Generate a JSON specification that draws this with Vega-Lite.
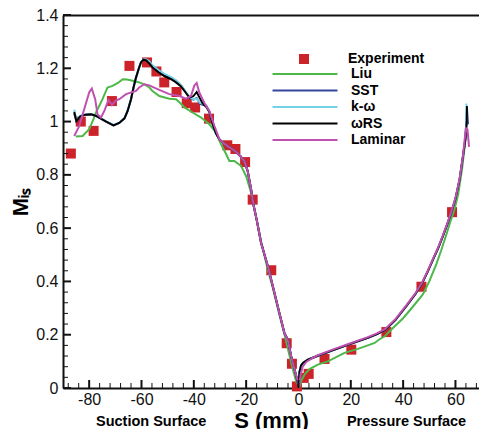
{
  "$schema": "https://vega.github.io/schema/vega-lite/v6.json",
  "width": 416,
  "height": 373,
  "autosize": {"type": "none"},
  "padding": {"left": 63, "top": 15, "right": 0, "bottom": 41},
  "background": "white",
  "config": {"view": {"stroke": null}, "font": "Liberation Sans"},
  "datasets": {
    "xMajor": [{"s": -80}, {"s": -60}, {"s": -40}, {"s": -20}, {"s": 0}, {"s": 20}, {"s": 40}, {"s": 60}],
    "xMinor": [{"s": -88}, {"s": -84}, {"s": -76}, {"s": -72}, {"s": -68}, {"s": -64}, {"s": -56}, {"s": -52}, {"s": -48}, {"s": -44}, {"s": -36}, {"s": -32}, {"s": -28}, {"s": -24}, {"s": -16}, {"s": -12}, {"s": -8}, {"s": -4}, {"s": 4}, {"s": 8}, {"s": 12}, {"s": 16}, {"s": 24}, {"s": 28}, {"s": 32}, {"s": 36}, {"s": 44}, {"s": 48}, {"s": 52}, {"s": 56}, {"s": 64}, {"s": 68}],
    "yMajor": [{"m": 0}, {"m": 0.2}, {"m": 0.4}, {"m": 0.6}, {"m": 0.8}, {"m": 1}, {"m": 1.2}, {"m": 1.4}],
    "yMinor": [{"m": 0.04}, {"m": 0.08}, {"m": 0.12}, {"m": 0.16}, {"m": 0.24}, {"m": 0.28}, {"m": 0.32}, {"m": 0.36}, {"m": 0.44}, {"m": 0.48}, {"m": 0.52}, {"m": 0.56}, {"m": 0.64}, {"m": 0.68}, {"m": 0.72}, {"m": 0.76}, {"m": 0.84}, {"m": 0.88}, {"m": 0.92}, {"m": 0.96}, {"m": 1.04}, {"m": 1.08}, {"m": 1.12}, {"m": 1.16}, {"m": 1.24}, {"m": 1.28}, {"m": 1.32}, {"m": 1.36}],
    "experiment": [
      {"model": "Experiment", "s": -87.0, "m": 0.880},
      {"model": "Experiment", "s": -83.2, "m": 1.000},
      {"model": "Experiment", "s": -78.3, "m": 0.965},
      {"model": "Experiment", "s": -71.3, "m": 1.077},
      {"model": "Experiment", "s": -64.6, "m": 1.209},
      {"model": "Experiment", "s": -57.9, "m": 1.222},
      {"model": "Experiment", "s": -54.3, "m": 1.188},
      {"model": "Experiment", "s": -51.3, "m": 1.147},
      {"model": "Experiment", "s": -46.6, "m": 1.111},
      {"model": "Experiment", "s": -42.7, "m": 1.069},
      {"model": "Experiment", "s": -39.5, "m": 1.053},
      {"model": "Experiment", "s": -34.2, "m": 1.011},
      {"model": "Experiment", "s": -27.2, "m": 0.911},
      {"model": "Experiment", "s": -24.1, "m": 0.897},
      {"model": "Experiment", "s": -20.4, "m": 0.848},
      {"model": "Experiment", "s": -17.5, "m": 0.707},
      {"model": "Experiment", "s": -10.4, "m": 0.442},
      {"model": "Experiment", "s": -4.5, "m": 0.168},
      {"model": "Experiment", "s": -2.5, "m": 0.091},
      {"model": "Experiment", "s": -0.6, "m": 0.006},
      {"model": "Experiment", "s": 2.0, "m": 0.038},
      {"model": "Experiment", "s": 3.9, "m": 0.053},
      {"model": "Experiment", "s": 9.95, "m": 0.109},
      {"model": "Experiment", "s": 20.2, "m": 0.144},
      {"model": "Experiment", "s": 33.6, "m": 0.210},
      {"model": "Experiment", "s": 47.0, "m": 0.380},
      {"model": "Experiment", "s": 58.7, "m": 0.660}
    ],
    "surfaces": [
      {"s": -56.3, "side": "Suction Surface"},
      {"s": 41.3, "side": "Pressure Surface"}
    ],
    "curves": [
      {"model": "Liu", "s": -85.1, "m": 0.944},
      {"model": "Liu", "s": -82.5, "m": 0.946},
      {"model": "Liu", "s": -80.0, "m": 0.971},
      {"model": "Liu", "s": -78.5, "m": 1.005},
      {"model": "Liu", "s": -77.4, "m": 1.034},
      {"model": "Liu", "s": -74.9, "m": 1.084},
      {"model": "Liu", "s": -73.0, "m": 1.128},
      {"model": "Liu", "s": -71.1, "m": 1.134},
      {"model": "Liu", "s": -69.0, "m": 1.145},
      {"model": "Liu", "s": -67.2, "m": 1.159},
      {"model": "Liu", "s": -65.5, "m": 1.158},
      {"model": "Liu", "s": -63.4, "m": 1.153},
      {"model": "Liu", "s": -60.8, "m": 1.147},
      {"model": "Liu", "s": -58.5, "m": 1.138},
      {"model": "Liu", "s": -57.0, "m": 1.128},
      {"model": "Liu", "s": -55.8, "m": 1.115},
      {"model": "Liu", "s": -53.2, "m": 1.096},
      {"model": "Liu", "s": -49.4, "m": 1.086},
      {"model": "Liu", "s": -46.8, "m": 1.084},
      {"model": "Liu", "s": -45.0, "m": 1.068},
      {"model": "Liu", "s": -43.6, "m": 1.053},
      {"model": "Liu", "s": -40.5, "m": 1.034},
      {"model": "Liu", "s": -37.2, "m": 1.015},
      {"model": "Liu", "s": -34.1, "m": 0.990},
      {"model": "Liu", "s": -31.5, "m": 0.959},
      {"model": "Liu", "s": -29.6, "m": 0.915},
      {"model": "Liu", "s": -28.0, "m": 0.885},
      {"model": "Liu", "s": -26.4, "m": 0.852},
      {"model": "Liu", "s": -24.5, "m": 0.852},
      {"model": "Liu", "s": -21.9, "m": 0.833},
      {"model": "Liu", "s": -20.0, "m": 0.795},
      {"model": "Liu", "s": -18.1, "m": 0.733},
      {"model": "Liu", "s": -16.8, "m": 0.670},
      {"model": "Liu", "s": -14.5, "m": 0.560},
      {"model": "Liu", "s": -12.0, "m": 0.455},
      {"model": "Liu", "s": -9.8, "m": 0.375},
      {"model": "Liu", "s": -7.3, "m": 0.275},
      {"model": "Liu", "s": -5.2, "m": 0.195},
      {"model": "Liu", "s": -3.5, "m": 0.125},
      {"model": "Liu", "s": -2.0, "m": 0.065},
      {"model": "Liu", "s": -0.8, "m": 0.022},
      {"model": "Liu", "s": 0.3, "m": 0.005},
      {"model": "Liu", "s": 1.0, "m": 0.025},
      {"model": "Liu", "s": 2.3, "m": 0.050},
      {"model": "Liu", "s": 4.2, "m": 0.071},
      {"model": "Liu", "s": 7.4, "m": 0.088},
      {"model": "Liu", "s": 11.2, "m": 0.100},
      {"model": "Liu", "s": 17.6, "m": 0.132},
      {"model": "Liu", "s": 22.7, "m": 0.147},
      {"model": "Liu", "s": 26.0, "m": 0.158},
      {"model": "Liu", "s": 29.1, "m": 0.169},
      {"model": "Liu", "s": 31.0, "m": 0.183},
      {"model": "Liu", "s": 33.0, "m": 0.194},
      {"model": "Liu", "s": 36.1, "m": 0.225},
      {"model": "Liu", "s": 40.0, "m": 0.262},
      {"model": "Liu", "s": 43.7, "m": 0.305},
      {"model": "Liu", "s": 47.6, "m": 0.352},
      {"model": "Liu", "s": 50.0, "m": 0.400},
      {"model": "Liu", "s": 52.7, "m": 0.465},
      {"model": "Liu", "s": 54.5, "m": 0.515},
      {"model": "Liu", "s": 56.5, "m": 0.575},
      {"model": "Liu", "s": 58.4, "m": 0.635},
      {"model": "Liu", "s": 59.5, "m": 0.665},
      {"model": "Liu", "s": 61.0, "m": 0.725},
      {"model": "Liu", "s": 62.5, "m": 0.820},
      {"model": "Liu", "s": 63.5, "m": 0.905},
      {"model": "Liu", "s": 64.1, "m": 0.990},

      {"model": "SST", "s": -85.7, "m": 1.030},
      {"model": "SST", "s": -84.9, "m": 1.002},
      {"model": "SST", "s": -83.4, "m": 1.020},
      {"model": "SST", "s": -81.5, "m": 1.026},
      {"model": "SST", "s": -79.3, "m": 1.027},
      {"model": "SST", "s": -77.5, "m": 1.022},
      {"model": "SST", "s": -76.2, "m": 1.015},
      {"model": "SST", "s": -73.5, "m": 1.000},
      {"model": "SST", "s": -70.7, "m": 0.986},
      {"model": "SST", "s": -68.5, "m": 0.995},
      {"model": "SST", "s": -66.5, "m": 1.012},
      {"model": "SST", "s": -65.3, "m": 1.040},
      {"model": "SST", "s": -64.0, "m": 1.084},
      {"model": "SST", "s": -63.0, "m": 1.130},
      {"model": "SST", "s": -62.1, "m": 1.165},
      {"model": "SST", "s": -61.0, "m": 1.200},
      {"model": "SST", "s": -60.2, "m": 1.222},
      {"model": "SST", "s": -59.3, "m": 1.232},
      {"model": "SST", "s": -58.3, "m": 1.232},
      {"model": "SST", "s": -57.0, "m": 1.224},
      {"model": "SST", "s": -55.8, "m": 1.209},
      {"model": "SST", "s": -53.5, "m": 1.191},
      {"model": "SST", "s": -51.3, "m": 1.177},
      {"model": "SST", "s": -48.5, "m": 1.164},
      {"model": "SST", "s": -46.8, "m": 1.153},
      {"model": "SST", "s": -44.9, "m": 1.136},
      {"model": "SST", "s": -43.2, "m": 1.112},
      {"model": "SST", "s": -41.7, "m": 1.090},
      {"model": "SST", "s": -40.2, "m": 1.082},
      {"model": "SST", "s": -38.9, "m": 1.088},
      {"model": "SST", "s": -37.6, "m": 1.066},
      {"model": "SST", "s": -36.2, "m": 1.062},
      {"model": "SST", "s": -35.2, "m": 1.058},
      {"model": "SST", "s": -34.0, "m": 1.035},
      {"model": "SST", "s": -32.8, "m": 0.990},
      {"model": "SST", "s": -31.5, "m": 0.955},
      {"model": "SST", "s": -30.2, "m": 0.933},
      {"model": "SST", "s": -28.5, "m": 0.918},
      {"model": "SST", "s": -27.1, "m": 0.908},
      {"model": "SST", "s": -25.5, "m": 0.898},
      {"model": "SST", "s": -23.8, "m": 0.886},
      {"model": "SST", "s": -22.2, "m": 0.870},
      {"model": "SST", "s": -20.7, "m": 0.852},
      {"model": "SST", "s": -19.4, "m": 0.814},
      {"model": "SST", "s": -18.1, "m": 0.745},
      {"model": "SST", "s": -17.1, "m": 0.683},
      {"model": "SST", "s": -16.0, "m": 0.633},
      {"model": "SST", "s": -14.3, "m": 0.545},
      {"model": "SST", "s": -11.7, "m": 0.457},
      {"model": "SST", "s": -9.8, "m": 0.382},
      {"model": "SST", "s": -7.3, "m": 0.282},
      {"model": "SST", "s": -5.4, "m": 0.207},
      {"model": "SST", "s": -4.1, "m": 0.182},
      {"model": "SST", "s": -2.8, "m": 0.119},
      {"model": "SST", "s": -1.5, "m": 0.069},
      {"model": "SST", "s": -0.5, "m": 0.030},
      {"model": "SST", "s": 0.0, "m": 0.005},
      {"model": "SST", "s": 0.4, "m": 0.060},
      {"model": "SST", "s": 1.0, "m": 0.085},
      {"model": "SST", "s": 1.8, "m": 0.095},
      {"model": "SST", "s": 3.6, "m": 0.106},
      {"model": "SST", "s": 7.4, "m": 0.121},
      {"model": "SST", "s": 13.8, "m": 0.144},
      {"model": "SST", "s": 20.2, "m": 0.167},
      {"model": "SST", "s": 26.5, "m": 0.188},
      {"model": "SST", "s": 30.0, "m": 0.202},
      {"model": "SST", "s": 33.2, "m": 0.219},
      {"model": "SST", "s": 37.0, "m": 0.255},
      {"model": "SST", "s": 41.2, "m": 0.307},
      {"model": "SST", "s": 44.5, "m": 0.350},
      {"model": "SST", "s": 47.0, "m": 0.388},
      {"model": "SST", "s": 49.3, "m": 0.435},
      {"model": "SST", "s": 51.4, "m": 0.482},
      {"model": "SST", "s": 53.4, "m": 0.525},
      {"model": "SST", "s": 55.2, "m": 0.570},
      {"model": "SST", "s": 56.9, "m": 0.615},
      {"model": "SST", "s": 58.4, "m": 0.658},
      {"model": "SST", "s": 60.0, "m": 0.710},
      {"model": "SST", "s": 61.6, "m": 0.783},
      {"model": "SST", "s": 62.9, "m": 0.871},
      {"model": "SST", "s": 63.8, "m": 0.933},
      {"model": "SST", "s": 64.3, "m": 1.000},
      {"model": "SST", "s": 64.4, "m": 1.050},
      {"model": "SST", "s": 64.8, "m": 0.990},

      {"model": "k-ω", "s": -85.7, "m": 1.045},
      {"model": "k-ω", "s": -84.9, "m": 1.004},
      {"model": "k-ω", "s": -83.4, "m": 1.021},
      {"model": "k-ω", "s": -81.5, "m": 1.027},
      {"model": "k-ω", "s": -79.3, "m": 1.028},
      {"model": "k-ω", "s": -77.5, "m": 1.023},
      {"model": "k-ω", "s": -76.2, "m": 1.016},
      {"model": "k-ω", "s": -73.5, "m": 1.001},
      {"model": "k-ω", "s": -70.7, "m": 0.987},
      {"model": "k-ω", "s": -68.5, "m": 0.996},
      {"model": "k-ω", "s": -66.5, "m": 1.013},
      {"model": "k-ω", "s": -65.3, "m": 1.040},
      {"model": "k-ω", "s": -64.0, "m": 1.084},
      {"model": "k-ω", "s": -63.0, "m": 1.130},
      {"model": "k-ω", "s": -62.1, "m": 1.165},
      {"model": "k-ω", "s": -61.0, "m": 1.200},
      {"model": "k-ω", "s": -60.2, "m": 1.222},
      {"model": "k-ω", "s": -59.3, "m": 1.233},
      {"model": "k-ω", "s": -58.3, "m": 1.234},
      {"model": "k-ω", "s": -57.0, "m": 1.226},
      {"model": "k-ω", "s": -55.8, "m": 1.211},
      {"model": "k-ω", "s": -53.5, "m": 1.193},
      {"model": "k-ω", "s": -51.3, "m": 1.179},
      {"model": "k-ω", "s": -48.5, "m": 1.166},
      {"model": "k-ω", "s": -46.8, "m": 1.155},
      {"model": "k-ω", "s": -44.9, "m": 1.138},
      {"model": "k-ω", "s": -43.2, "m": 1.114},
      {"model": "k-ω", "s": -41.7, "m": 1.092},
      {"model": "k-ω", "s": -40.2, "m": 1.084},
      {"model": "k-ω", "s": -38.9, "m": 1.086},
      {"model": "k-ω", "s": -37.6, "m": 1.070},
      {"model": "k-ω", "s": -36.2, "m": 1.066},
      {"model": "k-ω", "s": -35.2, "m": 1.060},
      {"model": "k-ω", "s": -34.0, "m": 1.036},
      {"model": "k-ω", "s": -32.8, "m": 0.990},
      {"model": "k-ω", "s": -31.5, "m": 0.955},
      {"model": "k-ω", "s": -30.2, "m": 0.933},
      {"model": "k-ω", "s": -28.5, "m": 0.918},
      {"model": "k-ω", "s": -27.1, "m": 0.908},
      {"model": "k-ω", "s": -25.5, "m": 0.898},
      {"model": "k-ω", "s": -23.8, "m": 0.886},
      {"model": "k-ω", "s": -22.2, "m": 0.870},
      {"model": "k-ω", "s": -20.7, "m": 0.852},
      {"model": "k-ω", "s": -19.4, "m": 0.814},
      {"model": "k-ω", "s": -18.1, "m": 0.745},
      {"model": "k-ω", "s": -17.1, "m": 0.683},
      {"model": "k-ω", "s": -16.0, "m": 0.633},
      {"model": "k-ω", "s": -14.3, "m": 0.545},
      {"model": "k-ω", "s": -11.7, "m": 0.457},
      {"model": "k-ω", "s": -9.8, "m": 0.382},
      {"model": "k-ω", "s": -7.3, "m": 0.282},
      {"model": "k-ω", "s": -5.4, "m": 0.207},
      {"model": "k-ω", "s": -4.1, "m": 0.182},
      {"model": "k-ω", "s": -2.8, "m": 0.119},
      {"model": "k-ω", "s": -1.5, "m": 0.069},
      {"model": "k-ω", "s": -0.5, "m": 0.030},
      {"model": "k-ω", "s": 0.0, "m": 0.005},
      {"model": "k-ω", "s": 0.4, "m": 0.060},
      {"model": "k-ω", "s": 1.0, "m": 0.085},
      {"model": "k-ω", "s": 1.8, "m": 0.095},
      {"model": "k-ω", "s": 3.6, "m": 0.106},
      {"model": "k-ω", "s": 7.4, "m": 0.121},
      {"model": "k-ω", "s": 13.8, "m": 0.144},
      {"model": "k-ω", "s": 20.2, "m": 0.167},
      {"model": "k-ω", "s": 26.5, "m": 0.188},
      {"model": "k-ω", "s": 30.0, "m": 0.202},
      {"model": "k-ω", "s": 33.2, "m": 0.219},
      {"model": "k-ω", "s": 37.0, "m": 0.255},
      {"model": "k-ω", "s": 41.2, "m": 0.307},
      {"model": "k-ω", "s": 44.5, "m": 0.350},
      {"model": "k-ω", "s": 47.0, "m": 0.388},
      {"model": "k-ω", "s": 49.3, "m": 0.435},
      {"model": "k-ω", "s": 51.4, "m": 0.482},
      {"model": "k-ω", "s": 53.4, "m": 0.525},
      {"model": "k-ω", "s": 55.2, "m": 0.570},
      {"model": "k-ω", "s": 56.9, "m": 0.615},
      {"model": "k-ω", "s": 58.4, "m": 0.658},
      {"model": "k-ω", "s": 60.0, "m": 0.710},
      {"model": "k-ω", "s": 61.6, "m": 0.783},
      {"model": "k-ω", "s": 62.9, "m": 0.871},
      {"model": "k-ω", "s": 63.8, "m": 0.933},
      {"model": "k-ω", "s": 64.1, "m": 1.000},
      {"model": "k-ω", "s": 64.2, "m": 1.068},

      {"model": "ωRS", "s": -85.7, "m": 1.036},
      {"model": "ωRS", "s": -84.9, "m": 1.002},
      {"model": "ωRS", "s": -83.4, "m": 1.020},
      {"model": "ωRS", "s": -81.5, "m": 1.026},
      {"model": "ωRS", "s": -79.3, "m": 1.027},
      {"model": "ωRS", "s": -77.5, "m": 1.022},
      {"model": "ωRS", "s": -76.2, "m": 1.015},
      {"model": "ωRS", "s": -73.5, "m": 1.000},
      {"model": "ωRS", "s": -70.7, "m": 0.986},
      {"model": "ωRS", "s": -68.5, "m": 0.995},
      {"model": "ωRS", "s": -66.5, "m": 1.012},
      {"model": "ωRS", "s": -65.3, "m": 1.040},
      {"model": "ωRS", "s": -64.0, "m": 1.084},
      {"model": "ωRS", "s": -63.0, "m": 1.130},
      {"model": "ωRS", "s": -62.1, "m": 1.165},
      {"model": "ωRS", "s": -61.0, "m": 1.200},
      {"model": "ωRS", "s": -60.2, "m": 1.222},
      {"model": "ωRS", "s": -59.3, "m": 1.232},
      {"model": "ωRS", "s": -58.3, "m": 1.230},
      {"model": "ωRS", "s": -57.0, "m": 1.218},
      {"model": "ωRS", "s": -55.8, "m": 1.203},
      {"model": "ωRS", "s": -53.5, "m": 1.185},
      {"model": "ωRS", "s": -51.3, "m": 1.171},
      {"model": "ωRS", "s": -48.5, "m": 1.158},
      {"model": "ωRS", "s": -46.8, "m": 1.147},
      {"model": "ωRS", "s": -44.9, "m": 1.132},
      {"model": "ωRS", "s": -43.2, "m": 1.110},
      {"model": "ωRS", "s": -41.7, "m": 1.090},
      {"model": "ωRS", "s": -40.2, "m": 1.095},
      {"model": "ωRS", "s": -38.9, "m": 1.111},
      {"model": "ωRS", "s": -37.8, "m": 1.090},
      {"model": "ωRS", "s": -36.6, "m": 1.068},
      {"model": "ωRS", "s": -35.2, "m": 1.055},
      {"model": "ωRS", "s": -34.0, "m": 1.035},
      {"model": "ωRS", "s": -32.8, "m": 0.990},
      {"model": "ωRS", "s": -31.5, "m": 0.955},
      {"model": "ωRS", "s": -30.2, "m": 0.933},
      {"model": "ωRS", "s": -28.5, "m": 0.918},
      {"model": "ωRS", "s": -27.1, "m": 0.908},
      {"model": "ωRS", "s": -25.5, "m": 0.898},
      {"model": "ωRS", "s": -23.8, "m": 0.886},
      {"model": "ωRS", "s": -22.2, "m": 0.870},
      {"model": "ωRS", "s": -20.7, "m": 0.852},
      {"model": "ωRS", "s": -19.4, "m": 0.814},
      {"model": "ωRS", "s": -18.1, "m": 0.745},
      {"model": "ωRS", "s": -17.1, "m": 0.683},
      {"model": "ωRS", "s": -16.0, "m": 0.633},
      {"model": "ωRS", "s": -14.3, "m": 0.545},
      {"model": "ωRS", "s": -11.7, "m": 0.457},
      {"model": "ωRS", "s": -9.8, "m": 0.382},
      {"model": "ωRS", "s": -7.3, "m": 0.282},
      {"model": "ωRS", "s": -5.4, "m": 0.207},
      {"model": "ωRS", "s": -4.1, "m": 0.182},
      {"model": "ωRS", "s": -2.8, "m": 0.119},
      {"model": "ωRS", "s": -1.5, "m": 0.069},
      {"model": "ωRS", "s": -0.5, "m": 0.030},
      {"model": "ωRS", "s": 0.0, "m": 0.005},
      {"model": "ωRS", "s": 0.4, "m": 0.060},
      {"model": "ωRS", "s": 1.0, "m": 0.085},
      {"model": "ωRS", "s": 1.8, "m": 0.095},
      {"model": "ωRS", "s": 3.6, "m": 0.106},
      {"model": "ωRS", "s": 7.4, "m": 0.121},
      {"model": "ωRS", "s": 13.8, "m": 0.144},
      {"model": "ωRS", "s": 20.2, "m": 0.167},
      {"model": "ωRS", "s": 26.5, "m": 0.188},
      {"model": "ωRS", "s": 30.0, "m": 0.202},
      {"model": "ωRS", "s": 33.2, "m": 0.219},
      {"model": "ωRS", "s": 37.0, "m": 0.255},
      {"model": "ωRS", "s": 41.2, "m": 0.307},
      {"model": "ωRS", "s": 44.5, "m": 0.350},
      {"model": "ωRS", "s": 47.0, "m": 0.388},
      {"model": "ωRS", "s": 49.3, "m": 0.435},
      {"model": "ωRS", "s": 51.4, "m": 0.482},
      {"model": "ωRS", "s": 53.4, "m": 0.525},
      {"model": "ωRS", "s": 55.2, "m": 0.570},
      {"model": "ωRS", "s": 56.9, "m": 0.615},
      {"model": "ωRS", "s": 58.4, "m": 0.658},
      {"model": "ωRS", "s": 60.0, "m": 0.710},
      {"model": "ωRS", "s": 61.6, "m": 0.783},
      {"model": "ωRS", "s": 62.9, "m": 0.871},
      {"model": "ωRS", "s": 63.8, "m": 0.933},
      {"model": "ωRS", "s": 64.3, "m": 1.000},
      {"model": "ωRS", "s": 64.4, "m": 1.058},

      {"model": "Laminar", "s": -85.7, "m": 0.946},
      {"model": "Laminar", "s": -83.8, "m": 0.983},
      {"model": "Laminar", "s": -81.9, "m": 1.046},
      {"model": "Laminar", "s": -80.0, "m": 1.109},
      {"model": "Laminar", "s": -79.0, "m": 1.124},
      {"model": "Laminar", "s": -77.7, "m": 1.084},
      {"model": "Laminar", "s": -76.8, "m": 1.027},
      {"model": "Laminar", "s": -75.5, "m": 1.015},
      {"model": "Laminar", "s": -74.2, "m": 1.040},
      {"model": "Laminar", "s": -72.6, "m": 1.081},
      {"model": "Laminar", "s": -71.3, "m": 1.062},
      {"model": "Laminar", "s": -70.0, "m": 1.078},
      {"model": "Laminar", "s": -68.5, "m": 1.084},
      {"model": "Laminar", "s": -65.9, "m": 1.103},
      {"model": "Laminar", "s": -62.1, "m": 1.115},
      {"model": "Laminar", "s": -60.9, "m": 1.128},
      {"model": "Laminar", "s": -58.9, "m": 1.140},
      {"model": "Laminar", "s": -57.0, "m": 1.136},
      {"model": "Laminar", "s": -53.2, "m": 1.119},
      {"model": "Laminar", "s": -49.4, "m": 1.103},
      {"model": "Laminar", "s": -45.5, "m": 1.096},
      {"model": "Laminar", "s": -43.0, "m": 1.086},
      {"model": "Laminar", "s": -41.1, "m": 1.096},
      {"model": "Laminar", "s": -39.8, "m": 1.135},
      {"model": "Laminar", "s": -38.9, "m": 1.145},
      {"model": "Laminar", "s": -37.9, "m": 1.109},
      {"model": "Laminar", "s": -36.0, "m": 1.071},
      {"model": "Laminar", "s": -34.1, "m": 1.040},
      {"model": "Laminar", "s": -32.1, "m": 0.983},
      {"model": "Laminar", "s": -30.2, "m": 0.933},
      {"model": "Laminar", "s": -28.5, "m": 0.918},
      {"model": "Laminar", "s": -27.1, "m": 0.908},
      {"model": "Laminar", "s": -25.5, "m": 0.898},
      {"model": "Laminar", "s": -23.8, "m": 0.886},
      {"model": "Laminar", "s": -22.2, "m": 0.870},
      {"model": "Laminar", "s": -20.7, "m": 0.852},
      {"model": "Laminar", "s": -19.4, "m": 0.814},
      {"model": "Laminar", "s": -18.1, "m": 0.745},
      {"model": "Laminar", "s": -17.1, "m": 0.683},
      {"model": "Laminar", "s": -16.0, "m": 0.633},
      {"model": "Laminar", "s": -14.3, "m": 0.545},
      {"model": "Laminar", "s": -11.7, "m": 0.457},
      {"model": "Laminar", "s": -9.8, "m": 0.382},
      {"model": "Laminar", "s": -7.3, "m": 0.282},
      {"model": "Laminar", "s": -5.4, "m": 0.207},
      {"model": "Laminar", "s": -4.1, "m": 0.180},
      {"model": "Laminar", "s": -2.8, "m": 0.119},
      {"model": "Laminar", "s": -1.5, "m": 0.069},
      {"model": "Laminar", "s": -0.4, "m": 0.030},
      {"model": "Laminar", "s": 0.2, "m": 0.005},
      {"model": "Laminar", "s": 0.8, "m": 0.050},
      {"model": "Laminar", "s": 1.6, "m": 0.080},
      {"model": "Laminar", "s": 3.0, "m": 0.098},
      {"model": "Laminar", "s": 5.0, "m": 0.110},
      {"model": "Laminar", "s": 7.4, "m": 0.123},
      {"model": "Laminar", "s": 13.8, "m": 0.147},
      {"model": "Laminar", "s": 20.2, "m": 0.169},
      {"model": "Laminar", "s": 26.5, "m": 0.191},
      {"model": "Laminar", "s": 30.0, "m": 0.205},
      {"model": "Laminar", "s": 33.2, "m": 0.222},
      {"model": "Laminar", "s": 37.0, "m": 0.258},
      {"model": "Laminar", "s": 41.2, "m": 0.310},
      {"model": "Laminar", "s": 44.5, "m": 0.353},
      {"model": "Laminar", "s": 47.0, "m": 0.391},
      {"model": "Laminar", "s": 49.3, "m": 0.438},
      {"model": "Laminar", "s": 51.4, "m": 0.485},
      {"model": "Laminar", "s": 53.4, "m": 0.528},
      {"model": "Laminar", "s": 55.2, "m": 0.573},
      {"model": "Laminar", "s": 56.9, "m": 0.618},
      {"model": "Laminar", "s": 58.4, "m": 0.661},
      {"model": "Laminar", "s": 60.0, "m": 0.713},
      {"model": "Laminar", "s": 61.6, "m": 0.786},
      {"model": "Laminar", "s": 62.9, "m": 0.874},
      {"model": "Laminar", "s": 63.6, "m": 0.940},
      {"model": "Laminar", "s": 64.0, "m": 0.975},
      {"model": "Laminar", "s": 64.6, "m": 0.970},
      {"model": "Laminar", "s": 65.2, "m": 0.905}
    ]
  },
  "resolve": {"axis": {"x": "independent", "y": "independent"}},
  "layer": [
    {
      "data": {"name": "experiment"},
      "mark": {"type": "point", "shape": "square", "filled": true, "size": 100, "opacity": 1},
      "encoding": {
        "x": {
          "field": "s", "type": "quantitative",
          "scale": {"domain": [-90, 69], "nice": false, "zero": false},
          "axis": {"orient": "top", "labels": false, "ticks": false, "title": null, "domainColor": "#111111", "domainWidth": 2, "grid": false}
        },
        "y": {
          "field": "m", "type": "quantitative",
          "scale": {"domain": [0, 1.4], "nice": false},
          "axis": null
        },
        "fill": {
          "field": "model", "type": "nominal",
          "scale": {"domain": ["Experiment"], "range": ["#cc2229"]},
          "legend": {
            "orient": "none", "legendX": 234, "legendY": 37,
            "title": null, "padding": 0,
            "labelFont": "Liberation Sans", "labelFontWeight": "bold", "labelFontSize": 14, "labelColor": "black",
            "labelOffset": 37,
            "symbolType": "square", "symbolSize": 100, "symbolStrokeWidth": 0, "symbolOpacity": 1
          }
        }
      }
    },
    {
      "data": {"name": "curves"},
      "mark": {"type": "line", "strokeWidth": 2, "clip": true},
      "encoding": {
        "x": {
          "field": "s", "type": "quantitative",
          "scale": {"domain": [-90, 69], "nice": false, "zero": false},
          "axis": {
            "orient": "bottom",
            "values": [-80, -60, -40, -20, 0, 20, 40, 60],
            "title": "S (mm)",
            "titleFont": "Liberation Sans", "titleFontSize": 22, "titleFontWeight": "bold", "titleColor": "black", "titlePadding": 3,
            "labelExpr": "'' + datum.value",
            "labelFont": "Liberation Sans", "labelFontSize": 16, "labelColor": "#111111", "labelPadding": 3,
            "labelOverlap": false, "labelFlush": false,
            "domainColor": "#111111", "domainWidth": 2,
            "ticks": false, "tickSize": 0,
            "grid": false
          }
        },
        "y": {
          "field": "m", "type": "quantitative",
          "scale": {"domain": [0, 1.4], "nice": false},
          "axis": {
            "orient": "left",
            "values": [0, 0.2, 0.4, 0.6, 0.8, 1, 1.2, 1.4],
            "title": "Mᵢₛ",
            "titleFont": "Liberation Sans", "titleFontSize": 22, "titleFontWeight": "bold", "titleColor": "black", "titlePadding": 3,
            "labelExpr": "'' + datum.value",
            "labelFont": "Liberation Sans", "labelFontSize": 16, "labelColor": "#111111", "labelPadding": 5,
            "labelOverlap": false, "labelFlush": false,
            "domainColor": "#111111", "domainWidth": 2,
            "ticks": false, "tickSize": 0,
            "grid": false
          }
        },
        "stroke": {
          "field": "model", "type": "nominal",
          "scale": {
            "domain": ["Liu", "SST", "k-ω", "ωRS", "Laminar"],
            "range": ["#4cb848", "#34469c", "#74d2e7", "#000000", "#c050b0"]
          },
          "legend": {
            "orient": "none", "legendX": 234, "legendY": 51,
            "title": null, "padding": 0,
            "labelFont": "Liberation Sans", "labelFontWeight": "bold", "labelFontSize": 14, "labelColor": "black",
            "labelOffset": 38, "rowPadding": 1.5,
            "symbolType": "M-4.64,0H4.64", "symbolSize": 196, "symbolStrokeWidth": 2
          }
        }
      }
    },
    {
      "data": {"name": "surfaces"},
      "mark": {"type": "text", "font": "Liberation Sans", "fontWeight": "bold", "fontSize": 14.5, "dy": 34, "baseline": "middle", "align": "center", "clip": false, "color": "black"},
      "encoding": {
        "x": {"field": "s", "type": "quantitative", "scale": {"domain": [-90, 69], "nice": false, "zero": false}, "axis": null},
        "y": {"datum": 0, "type": "quantitative", "scale": {"domain": [0, 1.4], "nice": false}, "axis": null},
        "text": {"field": "side"}
      }
    },
    {
      "data": {"name": "xMajor"},
      "mark": {"type": "tick", "orient": "vertical", "size": 8, "thickness": 2, "yOffset": -4, "color": "#111111", "opacity": 1},
      "encoding": {
        "x": {"field": "s", "type": "quantitative", "scale": {"domain": [-90, 69], "nice": false, "zero": false}, "axis": null},
        "y": {"datum": 0, "type": "quantitative", "scale": {"domain": [0, 1.4], "nice": false}, "axis": null}
      }
    },
    {
      "data": {"name": "xMinor"},
      "mark": {"type": "tick", "orient": "vertical", "size": 5, "thickness": 1, "yOffset": -2.5, "color": "#111111", "opacity": 1},
      "encoding": {
        "x": {"field": "s", "type": "quantitative", "scale": {"domain": [-90, 69], "nice": false, "zero": false}, "axis": null},
        "y": {"datum": 0, "type": "quantitative", "scale": {"domain": [0, 1.4], "nice": false}, "axis": null}
      }
    },
    {
      "data": {"name": "yMajor"},
      "mark": {"type": "tick", "orient": "horizontal", "size": 8, "thickness": 2, "xOffset": 4, "color": "#111111", "opacity": 1},
      "encoding": {
        "x": {"datum": -90, "type": "quantitative", "scale": {"domain": [-90, 69], "nice": false, "zero": false}, "axis": null},
        "y": {"field": "m", "type": "quantitative", "scale": {"domain": [0, 1.4], "nice": false}, "axis": null}
      }
    },
    {
      "data": {"name": "yMinor"},
      "mark": {"type": "tick", "orient": "horizontal", "size": 5, "thickness": 1, "xOffset": 2.5, "color": "#111111", "opacity": 1},
      "encoding": {
        "x": {"datum": -90, "type": "quantitative", "scale": {"domain": [-90, 69], "nice": false, "zero": false}, "axis": null},
        "y": {"field": "m", "type": "quantitative", "scale": {"domain": [0, 1.4], "nice": false}, "axis": null}
      }
    }
  ]
}
